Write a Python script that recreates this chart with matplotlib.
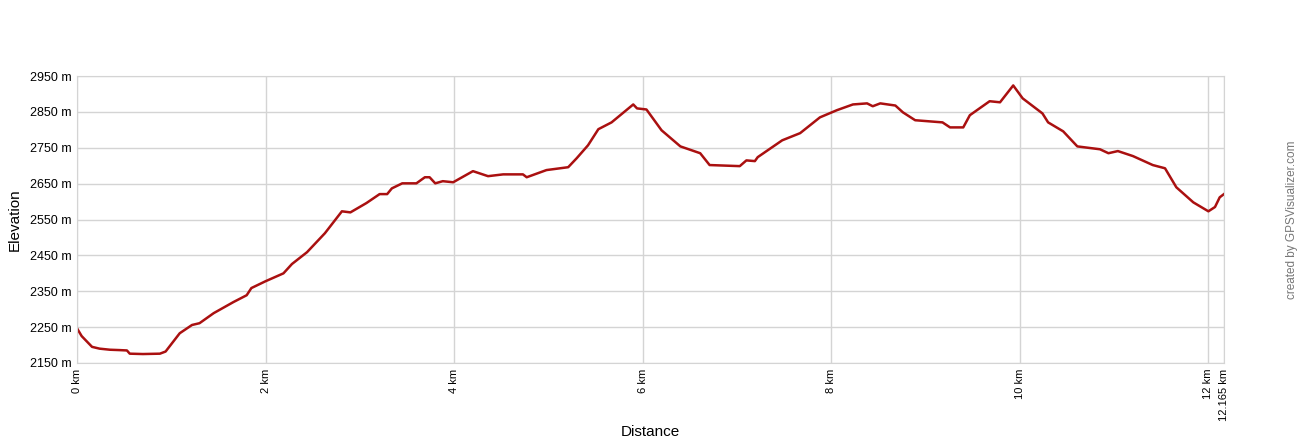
import matplotlib
matplotlib.use("Agg")
import matplotlib.pyplot as plt

# profile: distance (km) and elevation (m)
dist_km = [0.0, 0.05, 0.16, 0.24, 0.35, 0.45, 0.53, 0.56, 0.70, 0.88, 0.94,
           1.09, 1.22, 1.30, 1.45, 1.66, 1.80, 1.85, 2.0, 2.19, 2.28, 2.44,
           2.63, 2.81, 2.90, 3.07, 3.21, 3.29, 3.34, 3.45, 3.60, 3.69, 3.74,
           3.80, 3.88, 3.99, 4.20, 4.36, 4.52, 4.73, 4.77, 4.98, 5.21, 5.30,
           5.42, 5.53, 5.67, 5.90, 5.94, 6.04, 6.20, 6.40, 6.61, 6.71, 7.03,
           7.10, 7.19, 7.22, 7.48, 7.67, 7.88, 8.06, 8.23, 8.38, 8.44, 8.52,
           8.68, 8.76, 8.89, 9.18, 9.26, 9.40, 9.47, 9.68, 9.79, 9.93, 10.03,
           10.24, 10.30, 10.46, 10.61, 10.85, 10.94, 11.04, 11.20, 11.41,
           11.54, 11.66, 11.84, 12.0, 12.07, 12.12, 12.165]
elev_m = [2247, 2225, 2195, 2190, 2187, 2186, 2185, 2176, 2175, 2176, 2182,
          2233, 2256, 2261, 2289, 2320, 2339, 2359, 2378, 2400, 2426, 2459,
          2512, 2573, 2570, 2596, 2621, 2621, 2637, 2651, 2651, 2668, 2668,
          2651, 2657, 2654, 2685, 2671, 2676, 2676, 2668, 2688, 2696, 2721,
          2757, 2802, 2821, 2871, 2860, 2857, 2799, 2754, 2735, 2702, 2699,
          2715, 2713, 2724, 2771, 2791, 2835, 2855, 2871, 2874, 2866, 2874,
          2868, 2849, 2827, 2821, 2807, 2807, 2841, 2880, 2877, 2924, 2888,
          2846, 2821, 2796, 2754, 2746, 2735, 2741, 2727, 2702,
          2693, 2640, 2598, 2573, 2585, 2612, 2621]

x_ticks = [0, 2, 4, 6, 8, 10, 12, 12.165]
x_labels = ["0 km", "2 km", "4 km", "6 km", "8 km", "10 km", "12 km", "12.165 km"]
y_ticks = [2150, 2250, 2350, 2450, 2550, 2650, 2750, 2850, 2950]
y_labels = [f"{v} m" for v in y_ticks]

plt.rcParams["font.family"] = ["Liberation Sans", "DejaVu Sans"]

fig = plt.figure(figsize=(13, 4.4), dpi=100)
ax = fig.add_axes([0.0592, 0.175, 0.8823, 0.652])

ax.plot(dist_km, elev_m, color="#aa1010", lw=1.8, solid_joinstyle="round")

ax.set_xlim(0, 12.165)
ax.set_ylim(2150, 2950)
ax.set_xticks(x_ticks)
ax.set_xticklabels(x_labels, rotation=90, fontsize=8)
ax.set_yticks(y_ticks)
ax.set_yticklabels(y_labels, fontsize=9)
ax.tick_params(length=0, pad=4)
ax.grid(True, color="#d4d4d4", lw=1)
for s in ax.spines.values():
    s.set_color("#d4d4d4")

fig.text(0.5, 0.018, "Distance", ha="center", va="center", fontsize=11)
ax.set_ylabel("Elevation", fontsize=11, labelpad=6)

fig.text(0.994, 0.5, "created by GPSVisualizer.com", rotation=90,
         ha="center", va="center", fontsize=8.5, color="#777777")

fig.savefig("out.png", dpi=100)
